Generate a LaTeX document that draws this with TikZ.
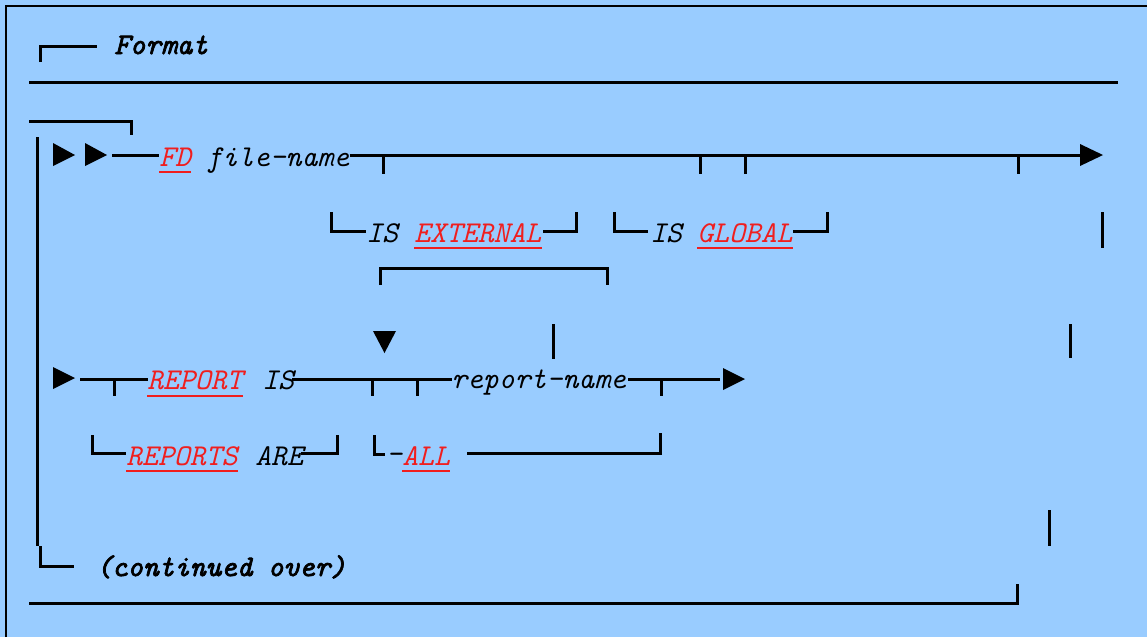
\documentclass[tikz,border=0pt]{standalone}
\usepackage{fontspec}
\setmonofont{Latin Modern Mono}
\newfontfamily\bmono{lmmono10-italic.otf}[FakeBold=2.5]
\usetikzlibrary{calc}
\definecolor{bgblue}{RGB}{153,204,255}
\definecolor{kwred}{RGB}{240,30,30}
\begin{document}
\begin{tikzpicture}[x=0.75pt,y=-0.75pt,
  rail/.style={line width=2.25pt,line cap=butt,line join=miter},
  tip/.style={fill=black,draw=none},
  txt/.style={inner sep=0pt,anchor=base west,font=\fontsize{22.7}{26}\selectfont\ttfamily\itshape},
  kw/.style={txt,text=kwred},
  bold/.style={txt,font=\fontsize{22.3}{26}\selectfont\bmono},
  uline/.style={draw=kwred,line width=1.2pt}]
\useasboundingbox (0,0) rectangle (1147,637);
\fill[bgblue] (0,0) rectangle (1147,637);
\draw[line width=1pt] (6,637) -- (6,6) -- (1147,6);

% title
\draw[rail] (40,62) -- (40,46) -- (97,46);
\node[bold] (fmt) at (114,54) {Format};
\draw[rail] (29,82) -- (1118,82);

% outer bracket
\draw[rail] (29,121) -- (131,121) -- (131,135);
\draw[rail] (37,137) -- (37,546);
\draw[rail] (40,546) -- (40,566) -- (74,566);
\node[bold] (cont) at (96,576) {(continued over)};
\draw[rail] (29,603) -- (1017,603) -- (1017,584);

% row 1
\fill[tip] (53,143) -- (75,155) -- (53,166) -- cycle;
\fill[tip] (85,143) -- (107,155) -- (85,166) -- cycle;
\node[kw] (fd) at (159,166) {FD};
\node[txt] (fname) at (206,166) {file-name};
\coordinate (end1) at (1080,155);
\draw[rail] (112,155) -- (fd.west |- 0,155);
\draw[rail] (fname.east |- 0,155) -- (end1);
\fill[tip] (1080,144) -- (1103,155) -- (1080,166) -- cycle;
\foreach \x in {383,700,745,1018} \draw[rail] (\x,155) -- (\x,174);
\draw[uline] ($(fd.base west)+(0,6)$) -- ($(fd.base east)+(0,6)$);

% row 2
\node[txt] (is1) at (366,242) {IS};
\node[kw] (ext) at (414,242) {EXTERNAL};
\draw[uline] ($(ext.base west)+(0,6)$) -- ($(ext.base east)+(0,6)$);
\draw[rail] (331,212) -- (331,231) -- (366,231);
\draw[rail] (543,231) -- (576,231) -- (576,212);
\node[txt] (is2) at (650,242) {IS};
\node[kw] (glob) at (697,242) {GLOBAL};
\draw[uline] ($(glob.base west)+(0,6)$) -- ($(glob.base east)+(0,6)$);
\draw[rail] (614,212) -- (614,231) -- (648,231);
\draw[rail] (793,231) -- (827,231) -- (827,212);
\draw[rail] (1102,212) -- (1102,248);

% row 3
\draw[rail] (380,285) -- (380,268) -- (607,268) -- (607,285);
\fill[tip] (373,331) -- (396,331) -- (384.5,353) -- cycle;
\draw[rail] (553,324) -- (553,359);
\draw[rail] (1070,324) -- (1070,358);

% row 4
\fill[tip] (53,367) -- (75,378) -- (53,389) -- cycle;
\node[kw] (rep) at (147,389) {REPORT};
\node[txt] (is3) at (262,389) {IS};
\node[txt] (rname) at (451,388) {report-name};
\draw[uline] ($(rep.base west)+(0,7)$) -- ($(rep.base east)+(0,7)$);
\draw[rail] (80,379) -- (148,379);
\draw[rail] (292,379) -- (452,379);
\draw[rail] (628,379) -- (720,379);
\foreach \x in {114,372,417,661} \draw[rail] (\x,379) -- (\x,396);
\fill[tip] (723,368) -- (745,379) -- (723,390) -- cycle;

% row 5
\node[kw] (reps) at (126,465) {REPORTS};
\node[txt] (are) at (255,465) {ARE};
\draw[uline] ($(reps.base west)+(0,6)$) -- ($(reps.base east)+(0,6)$);
\draw[rail] (92,435) -- (92,453) -- (126,453);
\draw[rail] (301,453) -- (337,453) -- (337,435);
\node[txt] (dash) at (386,463) {-};
\node[kw] (all) at (402,465) {ALL};
\draw[uline] ($(all.base west)+(0,6)$) -- ($(all.base east)+(0,6)$);
\draw[rail] (374,435) -- (374,454) -- (385,454);
\draw[rail] (467,453) -- (660,453) -- (660,433);

% row 6
\draw[rail] (1049,510) -- (1049,546);
\end{tikzpicture}
\end{document}
